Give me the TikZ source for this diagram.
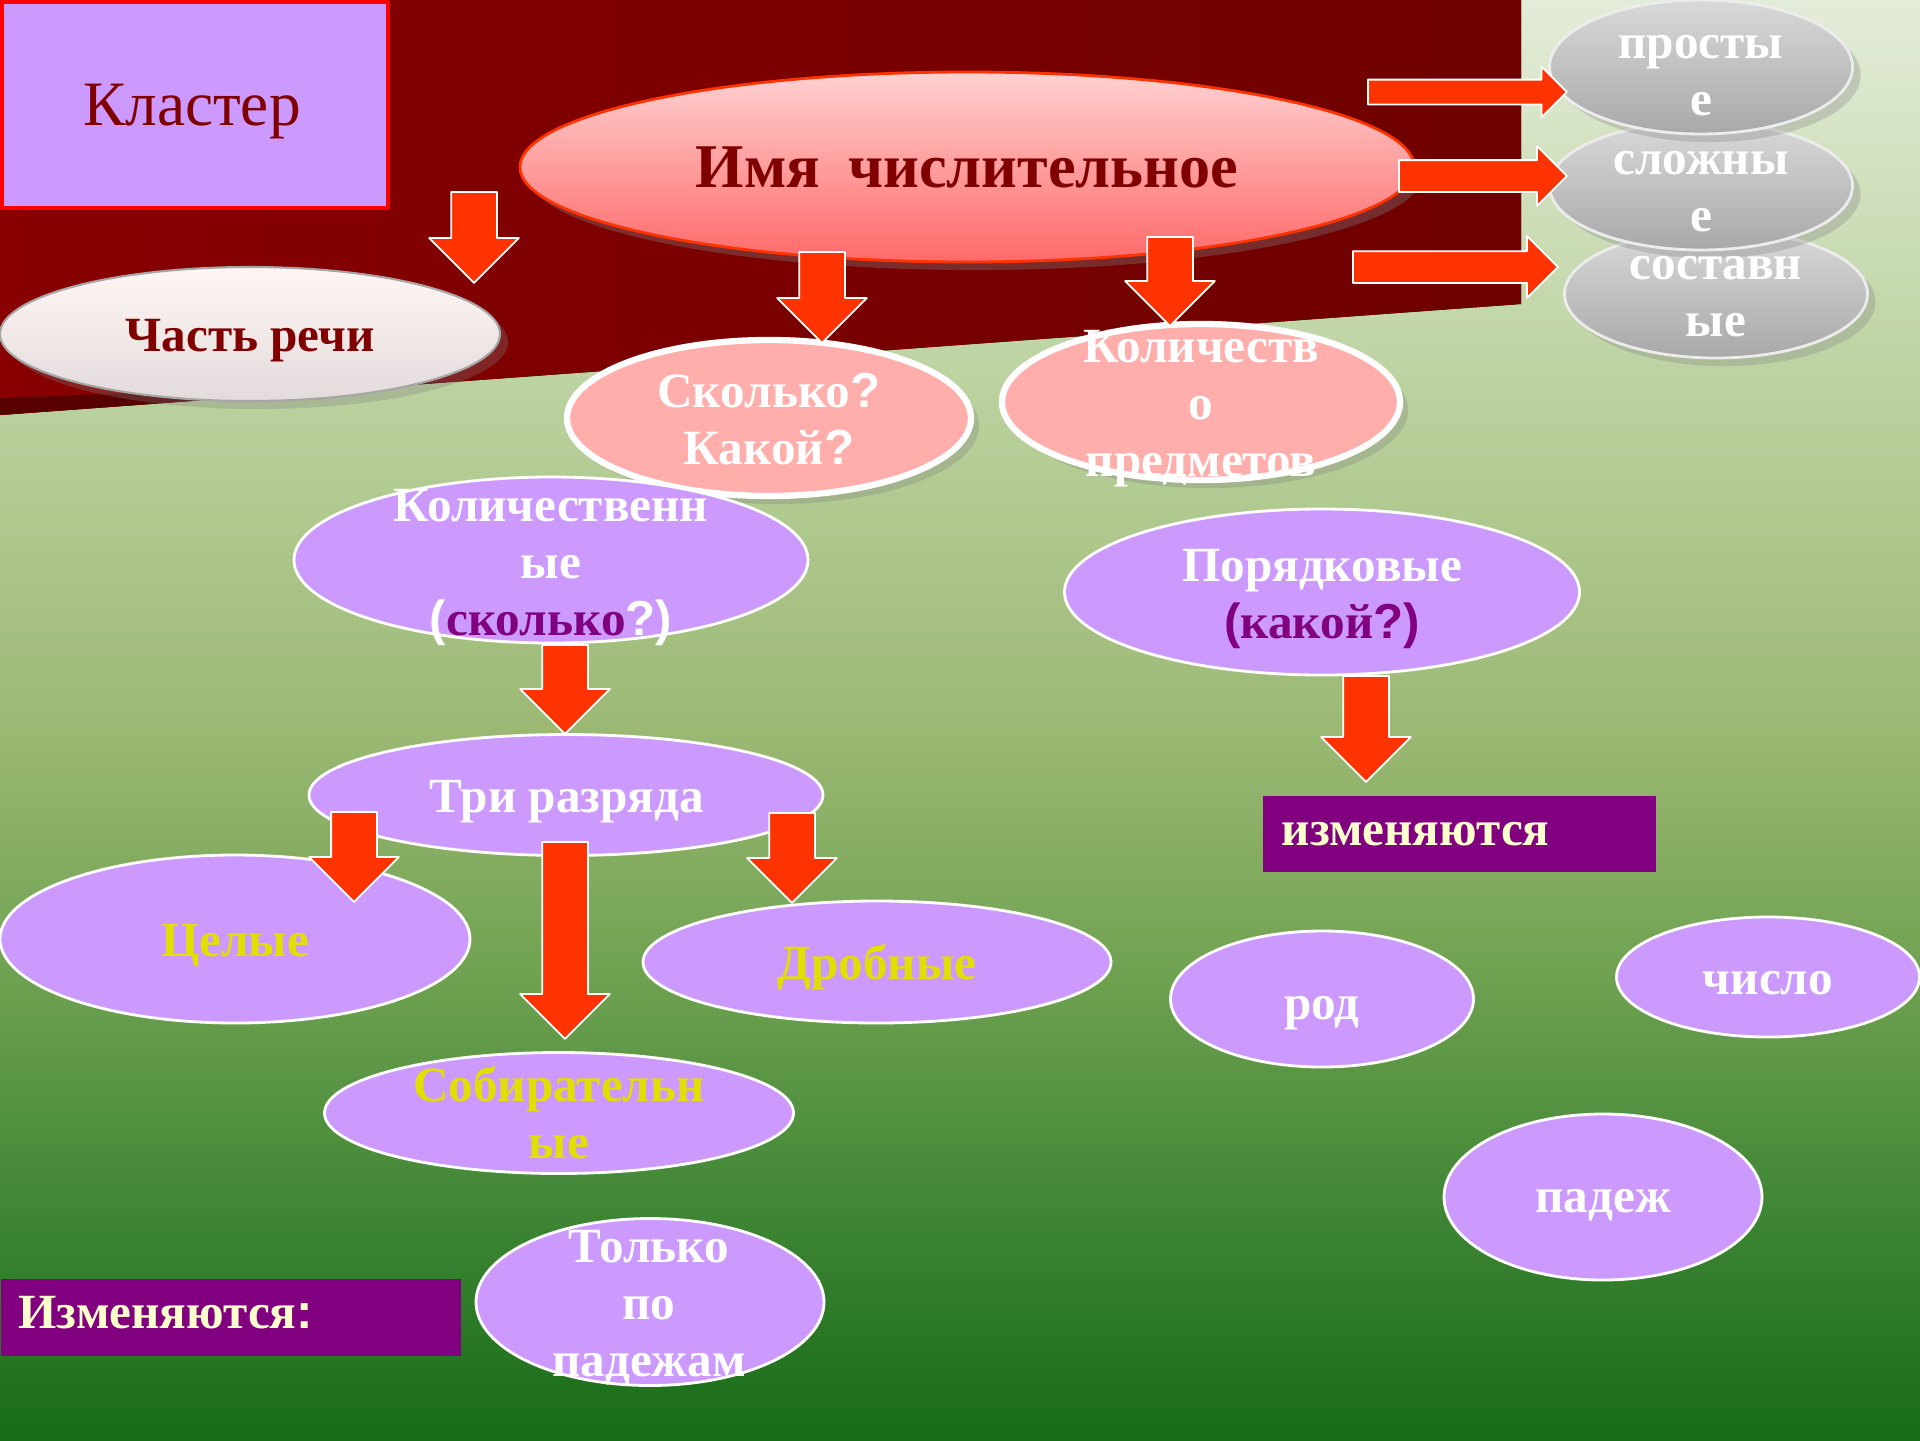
\documentclass[tikz,border=0pt]{standalone}
\usepackage{fontspec}
\setmainfont{Liberation Serif}
\newfontfamily\sansq{Liberation Sans}
\usetikzlibrary{shapes.geometric,shapes.arrows,shadows}

\definecolor{bgA}{HTML}{E3ECD8}
\definecolor{bgB}{HTML}{B7CF99}
\definecolor{bgC}{HTML}{9BB873}
\definecolor{bgD}{HTML}{6EA150}
\definecolor{bgE}{HTML}{3C8433}
\definecolor{bgF}{HTML}{176B17}
\definecolor{wineL}{HTML}{880000}
\definecolor{wineR}{HTML}{6E0000}
\definecolor{wineText}{HTML}{800000}
\definecolor{lilac}{HTML}{CC99FF}
\definecolor{purpleBox}{HTML}{800080}
\definecolor{arrRed}{HTML}{FF3300}
\definecolor{pinkFill}{HTML}{FFAEAB}
\definecolor{yellowTxt}{HTML}{E0E000}
\definecolor{creamTxt}{HTML}{FFFFCC}

\pgfdeclareverticalshading{meadow}{100bp}{color(0bp)=(bgF); color(25bp)=(bgF); color(32.5bp)=(bgE); color(41bp)=(bgD); color(49.5bp)=(bgC); color(60bp)=(bgB); color(75bp)=(bgA); color(100bp)=(bgA)}

\newcommand{\body}{\fontsize{14pt}{16.2pt}\selectfont\bfseries}
\newcommand{\qsym}[1]{{\sansq\bfseries #1}}

\begin{document}
\begin{tikzpicture}[x=1cm, y=-1cm, line join=round,
	ell/.style={ellipse, inner sep=0pt},
	lilacell/.style={ell, fill=lilac, draw=white, line width=0.8pt},
	pinkell/.style={ell, fill=pinkFill, draw=white, line width=1.8pt, drop shadow={opacity=0.3}},
	greyell/.style={ell, top color=gray!30, bottom color=gray!68, draw=gray!15, line width=0.8pt, drop shadow={opacity=0.3}},
	blockarr/.style={single arrow, fill=arrRed, draw=white, line width=0.5pt, inner xsep=0pt, single arrow tip angle=90, anchor=tail},
	downarr/.style={blockarr, rotate=-90, inner ysep=0.22cm, single arrow head extend=0.22cm},
	txt/.style={font=\body, align=center, inner sep=0pt, execute at begin node=\strut, execute at end node=\strut},
	purplebox/.style={rectangle, fill=purpleBox, inner xsep=0.18cm, inner ysep=0pt, align=left, anchor=west, font=\body, text=creamTxt, execute at begin node=\strut}]
	\useasboundingbox (0,0) rectangle (19.2,14.4);
	% background
	\fill[shading=meadow] (0,0) rectangle (19.2,14.4);
	\fill[left color=wineL, right color=wineR] (0,0) -- (15.21,0) -- (15.21,3.04) -- (0,4.15) -- cycle;
	\fill[wineR!80!black] (0,3.98) -- (4.6,3.81) -- (0,4.15) -- cycle;
	% boxes and ellipses
	\node[rectangle, fill=lilac, draw=red, line width=1pt, minimum width=3.86cm, minimum height=2.06cm, anchor=north west] (klaster) at (0,0) {};
	\node[ell, top color=red!18, bottom color=red!45!pink, draw=arrRed, line width=0.8pt, drop shadow={opacity=0.35}, minimum width=8.94cm, minimum height=1.90cm] (imya) at (9.67,1.67) {};
	\node[ell, top color=red!4, bottom color=red!12!gray!25, draw=gray!70, line width=0.6pt, drop shadow={opacity=0.3}, minimum width=5.00cm, minimum height=1.34cm] (chast) at (2.50,3.34) {};
	\node[greyell, minimum width=3.03cm, minimum height=1.28cm] (sostav) at (17.16,2.94) {};
	\node[greyell, minimum width=3.03cm, minimum height=1.28cm] (slozh) at (17.01,1.86) {};
	\node[greyell, minimum width=3.03cm, minimum height=1.34cm] (prost) at (17.01,0.67) {};
	\node[pinkell, minimum width=4.04cm, minimum height=1.56cm] (skolko) at (7.69,4.18) {};
	\node[pinkell, minimum width=3.98cm, minimum height=1.56cm] (kolvo) at (12.01,4.02) {};
	\node[lilacell, minimum width=5.14cm, minimum height=1.66cm] (kolich) at (5.51,5.60) {};
	\node[lilacell, minimum width=5.15cm, minimum height=1.66cm] (poryad) at (13.22,5.92) {};
	\node[lilacell, minimum width=5.14cm, minimum height=1.21cm] (tri) at (5.66,7.95) {};
	\node[lilacell, minimum width=4.70cm, minimum height=1.68cm] (celye) at (2.35,9.39) {};
	\node[lilacell, minimum width=4.68cm, minimum height=1.22cm] (drob) at (8.77,9.62) {};
	\node[lilacell, minimum width=4.69cm, minimum height=1.21cm] (sobir) at (5.59,11.13) {};
	\node[lilacell, minimum width=3.48cm, minimum height=1.67cm] (tolko) at (6.50,13.02) {};
	\node[lilacell, minimum width=3.03cm, minimum height=1.36cm] (rod) at (13.22,9.99) {};
	\node[lilacell, minimum width=3.03cm, minimum height=1.20cm] (chislo) at (17.68,9.77) {};
	\node[lilacell, minimum width=3.18cm, minimum height=1.66cm] (padezh) at (16.03,11.97) {};
	\node[purplebox, text width=4.24cm, minimum height=0.77cm] (izmA) at (0,13.175) {Изменяются\qsym{:}};
	\node[purplebox, text width=3.55cm, minimum height=0.76cm, inner xsep=0.19cm] (izmB) at (12.62,8.34) {изменяются};
	% arrows
	\node[downarr, minimum height=0.91cm] (aChast) at (4.74,1.91) {};
	\node[downarr, minimum height=0.91cm] (aSkolko) at (8.22,2.51) {};
	\node[downarr, minimum height=0.89cm] (aKolvo) at (11.70,2.36) {};
	\node[blockarr, inner ysep=0.115cm, single arrow head extend=0.13cm, minimum height=1.99cm] (aProst) at (13.67,0.92) {};
	\node[blockarr, inner ysep=0.15cm, single arrow head extend=0.14cm, minimum height=1.68cm] (aSlozh) at (13.98,1.76) {};
	\node[blockarr, inner ysep=0.15cm, single arrow head extend=0.15cm, minimum height=2.05cm] (aSostav) at (13.52,2.67) {};
	\node[downarr, minimum height=0.89cm] (aTri) at (5.65,6.44) {};
	\node[downarr, minimum height=0.90cm] (aCelye) at (3.54,8.11) {};
	\node[downarr, minimum height=1.97cm] (aSobir) at (5.65,8.41) {};
	\node[downarr, minimum height=0.90cm] (aDrob) at (7.92,8.12) {};
	\node[downarr, minimum height=1.06cm] (aIzm) at (13.66,6.75) {};
	% texts
	\node[inner sep=0pt, font=\fontsize{18pt}{21pt}\selectfont, text=wineText, execute at begin node=\strut] (tKlaster) at (1.92,1.11) {Кластер};
	\node[txt, font=\fontsize{17.7pt}{20.4pt}\selectfont\bfseries, text=wineText] (tImya) at (9.67,1.736) {Имя\hspace{0.2em} числительное};
	\node[txt, text=wineText] (tChast) at (2.50,3.406) {Часть речи};
	\node[txt, white] (tProst) at (17.01,0.836) {просты\\е};
	\node[txt, white] (tSlozh) at (17.01,1.996) {сложны\\е};
	\node[txt, white] (tSostav) at (17.16,3.046) {составн\\ые};
	\node[txt, white] (tSkolko) at (7.69,4.27) {Сколько\qsym{?}\\Какой\qsym{?}};
	\node[txt, white] (tKolvo) at (12.01,4.12) {Количеств\\о\\предметов};
	\node[txt, white] (tKolich) at (5.51,5.706) {Количественн\\ые\\\qsym{(}{\color{purpleBox}сколько}\qsym{?)}};
	\node[txt, white] (tPoryad) at (13.22,6.02) {Порядковые\\{\color{purpleBox}\qsym{(}какой\qsym{?)}}};
	\node[txt, white] (tTri) at (5.67,8.006) {Три разряда};
	\node[txt, yellowTxt] (tCelye) at (2.35,9.446) {Целые};
	\node[txt, yellowTxt] (tDrob) at (8.77,9.676) {Дробные};
	\node[txt, yellowTxt] (tSobir) at (5.59,11.21) {Собирательн\\ые};
	\node[txt, white] (tTolko) at (6.49,13.116) {Только\\по\\падежам};
	\node[txt, white] (tRod) at (13.22,10.076) {род};
	\node[txt, white] (tChislo) at (17.68,9.826) {число};
	\node[txt, white] (tPadezh) at (16.03,12.006) {падеж};
\end{tikzpicture}
\end{document}
